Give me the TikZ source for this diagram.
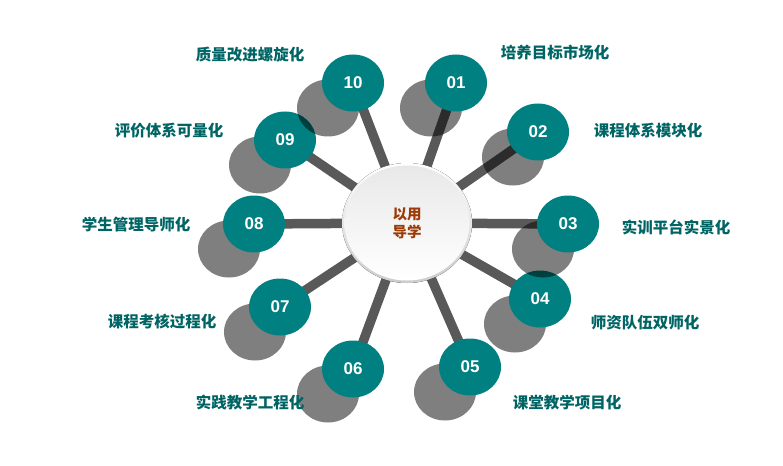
\documentclass[tikz,border=0pt]{standalone}
\usepackage{fontspec}
\setmainfont{Liberation Sans}
\newfontfamily\cjk{Noto Sans CJK SC}
\usetikzlibrary{shapes.geometric,calc}
\definecolor{tealc}{HTML}{008080}
\definecolor{labc}{HTML}{006464}
\definecolor{cenc}{HTML}{9C3A08}
\definecolor{spokec}{HTML}{595959}
\tikzset{
  spoke/.style={draw=spokec, line width=9.5pt},
  tealdot/.style={ellipse, fill=tealc, minimum width=62pt, minimum height=57pt, inner sep=0pt,
    text=white, font=\fontsize{17}{19}\selectfont\bfseries},
  shadowdot/.style={fill=black, fill opacity=0.5},
  lab/.style={text=labc, font=\cjk\fontsize{15.5}{18}\selectfont\bfseries, inner sep=0pt},
}
\begin{document}
\begin{tikzpicture}[x=1pt,y=-1pt]
\useasboundingbox (0,0) rectangle (783,465);
\coordinate (cc) at (407,223);
\coordinate (p1) at (456,83);
\coordinate (p2) at (538,132);
\coordinate (p3) at (568,224);
\coordinate (p4) at (540,299);
\coordinate (p5) at (470,367);
\coordinate (p6) at (353,369);
\coordinate (p7) at (280,307);
\coordinate (p8) at (254,224);
\coordinate (p9) at (285,140);
\coordinate (p10) at (353,83);
% spokes
\foreach \i in {1,...,10} \draw[spoke] (cc) -- (p\i);
% dots (order chosen for overlaps)
\foreach \i/\t in {4/04,3/03,2/02,1/01,5/05,6/06,7/07,8/08,9/09,10/10}{
  \fill[shadowdot] ($(p\i)+(-25,25)$) ellipse [x radius=31pt, y radius=28.5pt];
  \node[tealdot] (n\i) at (p\i) {\t};
}
% center
\fill[top color=white, bottom color=black!20] (cc) ellipse [x radius=65pt, y radius=60pt];
\shade[shading=axis, shading angle=45, top color=black!9, bottom color=white] (cc) ellipse [x radius=62.5pt, y radius=57.5pt];
\node[align=center, text=cenc, font=\cjk\fontsize{14.5}{18}\selectfont\bfseries, inner sep=0pt] (ctr) at (cc) {以用\\导学};
% labels
\node[lab] (l1) at (555,53) {培养目标市场化};
\node[lab] (l2) at (648,131) {课程体系模块化};
\node[lab] (l3) at (676,227) {实训平台实景化};
\node[lab] (l4) at (645,323) {师资队伍双师化};
\node[lab] (l5) at (567,403) {课堂教学项目化};
\node[lab] (l6) at (250,403) {实践教学工程化};
\node[lab] (l7) at (162,322) {课程考核过程化};
\node[lab] (l8) at (136,225) {学生管理导师化};
\node[lab] (l9) at (169,131) {评价体系可量化};
\node[lab] (l10) at (250,55) {质量改进螺旋化};
\end{tikzpicture}
\end{document}
